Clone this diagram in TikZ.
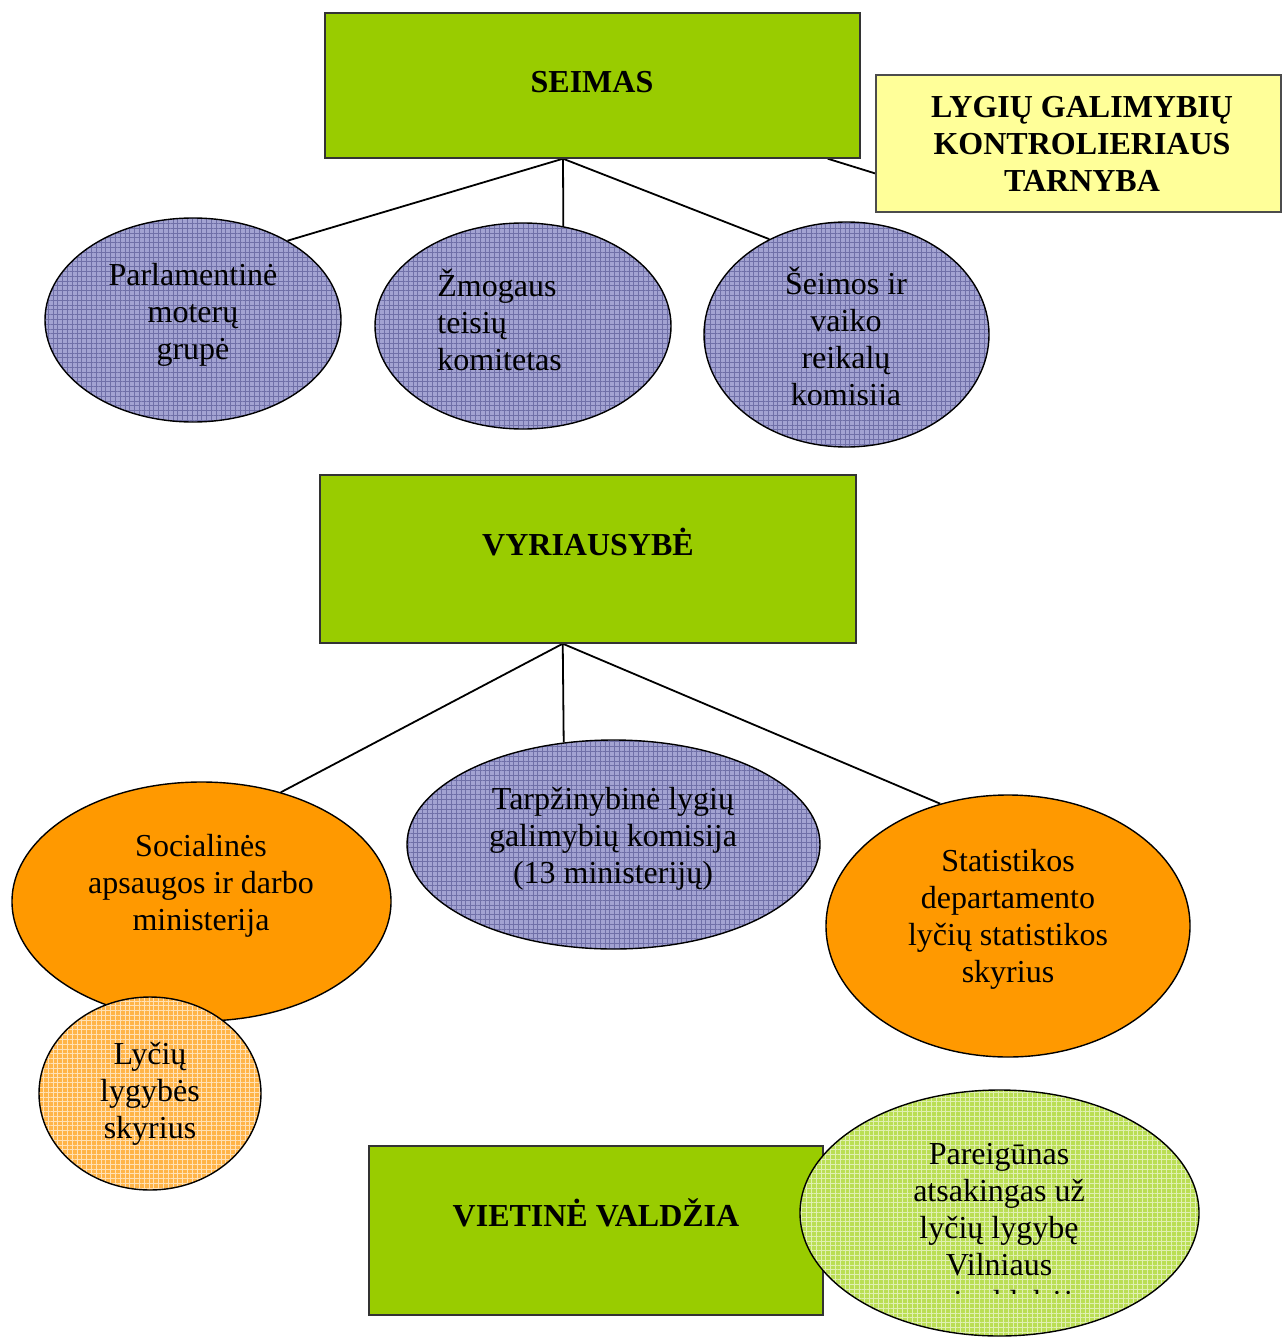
\documentclass[tikz,border=0pt]{standalone}
\usepackage{fontspec}
\setmainfont{Liberation Serif}
\usepackage{tikz}
\usetikzlibrary{shapes.geometric, patterns.meta, calc, backgrounds}

\definecolor{boxgreen}{RGB}{153,204,0}
\definecolor{boxyellow}{RGB}{255,255,153}
\definecolor{lilac}{RGB}{163,163,210}
\definecolor{lilacgrid}{RGB}{112,112,168}
\definecolor{orng}{RGB}{255,153,0}
\definecolor{paleorng}{RGB}{255,180,72}
\definecolor{palegreen}{RGB}{186,222,84}

\begin{document}
\begin{tikzpicture} [x = 0.5pt, y = -0.5pt,
        every node/.style = {font = \fontsize{16}{18.5}\selectfont, inner sep = 0pt},
        txt/.style = {align = center},
        head/.style = {align = center, font = \fontsize{16}{18.7}\selectfont\bfseries},
        orgbox/.style = {rectangle, draw = black!80, line width = 0.7pt, fill = boxgreen},
        bubble/.style = {ellipse, draw = black, line width = 0.7pt},
        gridfill/.style 2 args = {preaction = {fill = #1},
            preaction = {pattern = {Hatch[angle = 0, distance = 2.4pt, line width = 0.3pt]}, pattern color = #2}},
        lilacbubble/.style = {bubble, gridfill = {lilac}{lilacgrid}},
        orngbubble/.style = {bubble, fill = orng},
        paleorngbubble/.style = {bubble, gridfill = {paleorng}{white!60!paleorng}},
        palegreenbubble/.style = {bubble, gridfill = {palegreen}{white!55!palegreen}},
        link/.style = {line width = 0.9pt}]

    \useasboundingbox (0,0) rectangle (1282,1337);

    % Seimas level
    \node (seimas) [orgbox, minimum width = 267.5pt, minimum height = 72.5pt] at (592.5,85.5) {};
    \node (seimas-t) [head] at (592,82) {SEIMAS};
    \node (lgkt) [rectangle, draw = black!70, line width = 0.7pt, fill = boxyellow,
        minimum width = 202.5pt, minimum height = 68.5pt] at (1078.5,143.5) {};
    \node (lgkt-t) [head] at (1082,144) {LYGIŲ GALIMYBIŲ\\KONTROLIERIAUS\\TARNYBA};

    \node (parl) [lilacbubble, minimum width = 148pt, minimum height = 102pt] at (193,320) {};
    \node (parl-t) [txt] at (193,315) {Parlamentinė\\moterų\\grupė};
    \node (zmog) [lilacbubble, minimum width = 148pt, minimum height = 103pt] at (523,326) {};
    \node (zmog-t) [align = left, anchor = west] at (437,320) {Žmogaus\\teisių\\komitetas};
    \node (seim) [lilacbubble, minimum width = 142.5pt, minimum height = 112.5pt] at (846.5,334.5) {};
    \begin{scope}
        \clip (700,240) rectangle (1000,404);
        \node (seim-t) [txt] at (846,340) {Šeimos ir\\vaiko\\reikalų\\komisija};
    \end{scope}

    % Vyriausybe level
    \node (vyr) [orgbox, minimum width = 268pt, minimum height = 84pt] at (588,559) {};
    \node (vyr-t) [head] at (588,542) {VYRIAUSYBĖ};

    \node (soc) [orngbubble, minimum width = 189.5pt, minimum height = 119.5pt] at (201.5,901.5) {};
    \node (soc-t) [txt] at (201,886) {Socialinės\\apsaugos ir darbo\\ministerija};
    \node (tarp) [lilacbubble, minimum width = 206.5pt, minimum height = 104.5pt] at (613.5,844.5) {};
    \node (tarp-t) [txt] at (613,839) {Tarpžinybinė lygių\\galimybių komisija\\(13 ministerijų)};
    \node (stat) [orngbubble, minimum width = 182pt, minimum height = 131pt] at (1008,926) {};
    \node (stat-t) [txt] at (1008,919) {Statistikos\\departamento\\lyčių statistikos\\skyrius};
    \node (lyc) [paleorngbubble, minimum width = 111pt, minimum height = 96.5pt] at (150,1093.5) {};
    \node (lyc-t) [txt] at (150,1094) {Lyčių\\lygybės\\skyrius};

    % Vietine valdzia level
    \node (viet) [orgbox, minimum width = 227pt, minimum height = 84.5pt] at (596,1230.5) {};
    \node (viet-t) [head] at (596,1213) {VIETINĖ VALDŽIA};
    \node (pareig) [palegreenbubble, minimum width = 199.5pt, minimum height = 123pt] at (999.5,1213) {};
    \begin{scope}
        \clip (800,1100) rectangle (1200,1293);
        \node (pareig-t) [txt] at (999,1231) {Pareigūnas\\atsakingas už\\lyčių lygybę\\Vilniaus\\savivaldybėje};
    \end{scope}

    % connectors
    \coordinate (seimas hub) at ($(seimas.south west)!0.445!(seimas.south east)$);
    \coordinate (vyr hub) at ($(vyr.south west)!0.453!(vyr.south east)$);
    \begin{scope}[on background layer]
        \draw [link] ($(seimas.south east)+(-33,0)$) -- ($(lgkt.south west)+(4,-38)$);
        \draw [link] (seimas hub) -- (parl.40);
        \draw [link] (seimas hub) -- (zmog.68);
        \draw [link] (seimas hub) -- (seim.129);
        \draw [link] (vyr hub) -- (soc.54);
        \draw [link] (vyr hub) -- (tarp.116);
        \draw [link] (vyr hub) -- (stat.119);
    \end{scope}

\end{tikzpicture}
\end{document}
